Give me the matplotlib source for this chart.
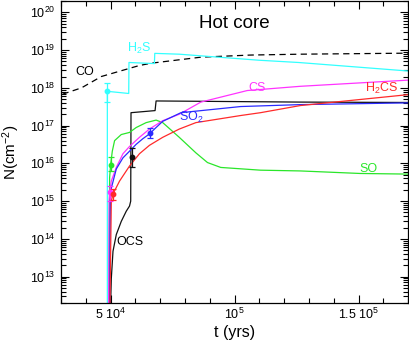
import numpy as np
import matplotlib
matplotlib.use('Agg')
import matplotlib.pyplot as plt
from matplotlib.ticker import LogLocator, FixedLocator, NullFormatter, FuncFormatter

plt.rcParams['font.family'] = ['Liberation Sans', 'DejaVu Sans']
plt.rcParams['mathtext.fontset'] = 'custom'
plt.rcParams['mathtext.rm'] = 'Liberation Sans'
plt.rcParams['mathtext.it'] = 'Liberation Sans:italic'
plt.rcParams['mathtext.default'] = 'regular'

# model curves (t in yrs, N in cm^-2)
t_co = [30630, 38250, 46270, 61510, 66320, 86370, 106420, 126470, 169780]
n_co = [6.8e17, 1.0e18, 2.0e18, 3.9e18, 4.5e18, 6.5e18, 7.4e18, 7.8e18, 8.3e18]

t_h2s = [48680, 48680, 57300, 57400, 67650, 67800, 77650, 109730, 125770, 169780]
n_h2s = [1e11, 8.1e17, 7.1e17, 4.7e18, 4.4e18, 8.2e18, 7.8e18, 5.4e18, 4.7e18, 2.8e18]

t_ocs = [49480, 50280, 50960, 52290, 54290, 56300, 57620, 58100, 58220, 67920, 68330, 126470, 169780]
n_ocs = [1e11, 8.9e12, 4.7e13, 1.3e14, 2.9e14, 5.4e14, 7.4e14, 1.0e15, 2.2e17, 2.5e17, 4.5e17, 4.2e17, 4.1e17]

t_so = [49200, 49600, 50000, 50680, 51600, 54290, 57620, 60310, 64320, 68330, 71010, 77670, 84370,
        89060, 94390, 110430, 126470, 150530, 169780]
n_so = [1e11, 4.2e15, 9.1e15, 2.1e16, 4.0e16, 5.8e16, 6.6e16, 8.9e16, 1.2e17, 1.4e17, 1.2e17, 4.9e16, 1.9e16,
        1.05e16, 7.8e15, 6.6e15, 6.3e15, 5.4e15, 5.2e15]

t_cs = [49080, 49400, 49600, 50280, 52290, 54970, 57620, 61630, 65640, 71010, 77670, 86370, 105100, 126470, 169780]
n_cs = [1e11, 1.0e15, 1.7e15, 3.4e15, 7.8e15, 1.8e16, 2.8e16, 4.9e16, 8.1e16, 1.35e17, 2.0e17, 4.2e17, 8.5e17,
        1.1e18, 1.6e18]

t_so2 = [49480, 49880, 50280, 52290, 54970, 57620, 60310, 62990, 65640, 68330, 71010, 78350, 102410, 126470, 169780]
n_so2 = [1e11, 1.0e15, 2.2e15, 7.1e15, 1.4e16, 2.1e16, 3.2e16, 4.5e16, 6.0e16, 8.9e16, 1.3e17, 2.2e17, 3.2e17,
         3.6e17, 4.0e17]

t_h2cs = [49480, 50280, 50960, 53610, 57620, 61630, 65640, 71010, 77670, 84370, 102410, 110430, 126470, 169780]
n_h2cs = [1e11, 1.0e15, 1.55e15, 3.4e15, 8.5e15, 1.8e16, 3.0e16, 4.9e16, 8.1e16, 1.2e17, 1.85e17, 2.2e17,
          3.4e17, 6.6e17]

# observed points: t, N, lower, upper
obs_names = ['H2S', 'SO', 'CS', 'H2CS', 'SO2', 'OCS']
obs_t = [48680, 50000, 49600, 50960, 66040, 58580]
obs_n = [8.1e17, 9.1e15, 1.7e15, 1.55e15, 6.2e16, 1.5e16]
obs_lo = [4.1e17, 6.3e15, 1.0e15, 1.07e15, 4.6e16, 8.1e15]
obs_hi = [1.38e18, 1.43e16, 2.5e15, 2.1e15, 8.9e16, 2.6e16]

# species labels: text, t, N (baseline)
lab_text = ['CO', 'H$_2$S', 'CS', 'H$_2$CS', 'SO$_2$', 'SO', 'OCS']
lab_t = [39450, 61310, 109030, 159350, 82680, 154140, 57620]
lab_n = [2.14e18, 9.0e18, 8.2e17, 7.8e17, 1.35e17, 6.0e15, 7.0e13]

ydecades = [13, 14, 15, 16, 17, 18, 19, 20]

c_cyan = '#33ffff'
c_mag = '#ff33ff'
c_red = '#ff2a2a'
c_blue = '#2a2aff'
c_green = '#2ae62a'
c_black = '#111111'
obs_col = [c_cyan, c_green, c_mag, c_red, c_blue, c_black]
lab_col = ['black', c_cyan, c_mag, c_red, c_blue, c_green, 'black']

fig = plt.figure(figsize=(4.09, 3.42), dpi=100)
ax = fig.add_axes([61/409, 1-303/342, (408.3-61)/409, (303-1)/342])

lw = 0.9
ax.plot(t_co, n_co, color='black', lw=lw, dashes=(5, 3.5))
ax.plot(t_h2s, n_h2s, color=c_cyan, lw=lw)
ax.plot(t_ocs, n_ocs, color=c_black, lw=lw)
ax.plot(t_so, n_so, color=c_green, lw=lw)
ax.plot(t_cs, n_cs, color=c_mag, lw=lw)
ax.plot(t_so2, n_so2, color=c_blue, lw=lw)
ax.plot(t_h2cs, n_h2cs, color=c_red, lw=lw)

for i in range(len(obs_t)):
    err = [[obs_n[i]-obs_lo[i]], [obs_hi[i]-obs_n[i]]]
    ax.errorbar([obs_t[i]], [obs_n[i]], yerr=err, fmt='o', color=obs_col[i], ms=3.2,
                capsize=2.2, elinewidth=0.9, capthick=0.9)

ax.set_yscale('log')
ax.set_xlim(3e4, 1.7e5)
ax.set_ylim(2e12, 2e20)

ax.xaxis.set_major_locator(FixedLocator([5e4, 1e5, 1.5e5]))
ax.xaxis.set_minor_locator(FixedLocator(np.arange(3e4, 1.71e5, 1e4)))
ax.set_xticklabels(['5 10$^4$', '10$^5$', '1.5 10$^5$'])
ax.yaxis.set_major_locator(FixedLocator([10.0**d for d in ydecades]))
ax.yaxis.set_minor_locator(LogLocator(base=10, subs=np.arange(2, 10), numticks=20))
ax.yaxis.set_minor_formatter(NullFormatter())
ax.yaxis.set_major_formatter(FuncFormatter(lambda v, p: '10$^{%d}$' % round(np.log10(v))))

ax.tick_params(which='both', direction='in', top=True, right=True, labelsize=9, width=0.8)
ax.tick_params(which='major', length=6)
ax.tick_params(which='minor', length=3.5)
ax.tick_params(axis='x', which='major', pad=3)
ax.tick_params(axis='y', which='major', pad=4)
for s in ax.spines.values():
    s.set_linewidth(0.9)

ax.set_xlabel('t (yrs)', fontsize=11.5)
ax.xaxis.set_label_coords(0.5, -0.072)
ax.set_ylabel('N(cm$^{-2}$)', fontsize=11)
ax.yaxis.set_label_coords(-0.113, 0.5)

ax.text(0.5, 0.925, 'Hot core', transform=ax.transAxes, ha='center', va='center', fontsize=13.5)

for i in range(len(lab_text)):
    ax.text(lab_t[i], lab_n[i], lab_text[i], color=lab_col[i], fontsize=9, ha='center', va='baseline')

fig.savefig('out.png', dpi=100)
